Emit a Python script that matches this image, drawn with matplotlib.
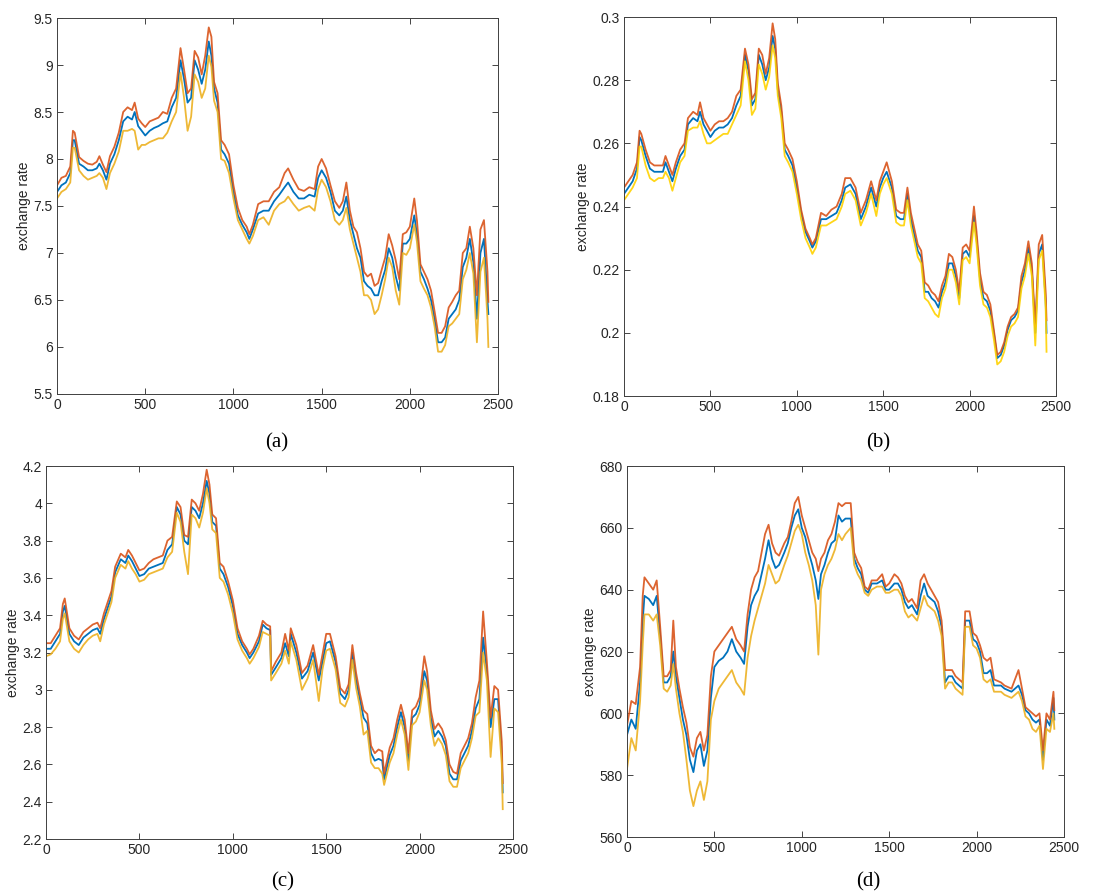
import matplotlib
matplotlib.use("Agg")
import matplotlib.pyplot as plt
from matplotlib.ticker import FuncFormatter

plt.rcParams["font.family"] = ["Liberation Sans", "DejaVu Sans"]

# ---- panel (a) ----
days_a = [0, 25, 50, 75, 90, 100, 125, 150, 175, 200, 225, 240, 260, 280, 300,
          325, 350, 375, 400, 425, 440, 460, 480, 500, 525, 550, 575, 600, 625, 650,
          675, 700, 720, 740, 760, 780, 800, 820, 840, 860, 875, 890, 910, 930, 950,
          975, 1000, 1025, 1050, 1075, 1090, 1110, 1140, 1170, 1200, 1230, 1260, 1290, 1310, 1340,
          1370, 1400, 1430, 1460, 1480, 1500, 1525, 1550, 1575, 1600, 1620, 1640, 1660, 1680, 1700,
          1720, 1740, 1760, 1780, 1800, 1820, 1840, 1860, 1880, 1900, 1920, 1940, 1960, 1980, 2000,
          2025, 2040, 2060, 2080, 2100, 2120, 2140, 2160, 2180, 2200, 2220, 2240, 2260, 2280, 2300,
          2320, 2340, 2360, 2380, 2400, 2420, 2440, 2445]
blue_a = [7.65, 7.72, 7.75, 7.85, 8.20, 8.20, 7.95, 7.92, 7.88, 7.88, 7.90, 7.95, 7.88, 7.78, 7.95,
          8.05, 8.20, 8.40, 8.45, 8.42, 8.50, 8.35, 8.30, 8.25, 8.30, 8.33, 8.35, 8.38, 8.40, 8.55,
          8.65, 9.05, 8.85, 8.60, 8.65, 9.05, 8.95, 8.80, 8.95, 9.25, 9.10, 8.75, 8.60, 8.10, 8.05,
          7.95, 7.65, 7.40, 7.30, 7.22, 7.15, 7.25, 7.42, 7.45, 7.45, 7.55, 7.62, 7.70, 7.75, 7.65,
          7.58, 7.58, 7.62, 7.60, 7.80, 7.88, 7.80, 7.65, 7.45, 7.40, 7.45, 7.60, 7.35, 7.20, 7.05,
          6.95, 6.70, 6.65, 6.62, 6.55, 6.55, 6.70, 6.82, 7.05, 6.95, 6.75, 6.60, 7.10, 7.10, 7.15,
          7.40, 7.20, 6.80, 6.72, 6.62, 6.50, 6.30, 6.05, 6.05, 6.10, 6.30, 6.35, 6.40, 6.50, 6.85,
          6.95, 7.15, 6.90, 6.30, 7.00, 7.15, 6.50, 6.35]
orange_a = [7.72, 7.80, 7.82, 7.92, 8.30, 8.28, 8.02, 7.98, 7.95, 7.94, 7.97, 8.03, 7.94, 7.86, 8.03,
            8.13, 8.28, 8.50, 8.55, 8.52, 8.60, 8.43, 8.38, 8.34, 8.40, 8.42, 8.44, 8.50, 8.48, 8.65,
            8.75, 9.18, 8.95, 8.70, 8.75, 9.15, 9.08, 8.90, 9.10, 9.40, 9.30, 8.82, 8.70, 8.20, 8.15,
            8.05, 7.72, 7.48, 7.35, 7.28, 7.20, 7.30, 7.52, 7.55, 7.55, 7.65, 7.70, 7.85, 7.90, 7.78,
            7.68, 7.66, 7.70, 7.68, 7.92, 8.00, 7.90, 7.72, 7.55, 7.48, 7.55, 7.75, 7.45, 7.28, 7.22,
            7.05, 6.80, 6.75, 6.78, 6.65, 6.68, 6.82, 6.95, 7.20, 7.08, 6.92, 6.72, 7.20, 7.22, 7.28,
            7.58, 7.35, 6.88, 6.80, 6.72, 6.60, 6.38, 6.15, 6.15, 6.22, 6.42, 6.48, 6.55, 6.60, 7.00,
            7.05, 7.28, 7.05, 6.55, 7.25, 7.35, 6.80, 6.48]
yellow_a = [7.58, 7.65, 7.68, 7.75, 8.12, 8.12, 7.88, 7.82, 7.78, 7.80, 7.82, 7.85, 7.80, 7.68, 7.85,
            7.95, 8.08, 8.30, 8.30, 8.32, 8.30, 8.10, 8.15, 8.15, 8.18, 8.20, 8.22, 8.22, 8.28, 8.40,
            8.50, 8.92, 8.65, 8.30, 8.45, 8.90, 8.82, 8.65, 8.75, 9.10, 8.98, 8.62, 8.50, 8.00, 7.98,
            7.85, 7.58, 7.35, 7.25, 7.15, 7.10, 7.18, 7.35, 7.38, 7.30, 7.45, 7.52, 7.55, 7.60, 7.52,
            7.45, 7.48, 7.50, 7.45, 7.68, 7.78, 7.70, 7.55, 7.35, 7.30, 7.35, 7.48, 7.25, 7.10, 6.95,
            6.80, 6.55, 6.55, 6.50, 6.35, 6.40, 6.55, 6.72, 6.95, 6.85, 6.60, 6.45, 7.00, 6.98, 7.05,
            7.30, 7.12, 6.70, 6.62, 6.55, 6.42, 6.22, 5.95, 5.95, 6.02, 6.22, 6.25, 6.30, 6.35, 6.72,
            6.82, 7.00, 6.78, 6.05, 6.80, 6.95, 6.30, 6.00]

# ---- panel (b) ----
days_b = [0, 25, 50, 75, 90, 100, 125, 150, 175, 200, 225, 240, 260, 280, 300,
          325, 350, 370, 400, 425, 440, 460, 480, 500, 525, 550, 575, 600, 625, 650,
          675, 700, 720, 740, 760, 780, 800, 820, 840, 860, 875, 890, 910, 930, 950,
          975, 1000, 1025, 1050, 1075, 1090, 1110, 1140, 1170, 1200, 1230, 1260, 1280, 1310, 1340,
          1370, 1400, 1430, 1460, 1480, 1500, 1520, 1550, 1575, 1600, 1620, 1640, 1660, 1680, 1700,
          1720, 1740, 1760, 1780, 1800, 1820, 1840, 1860, 1880, 1900, 1920, 1940, 1960, 1980, 2000,
          2025, 2040, 2060, 2080, 2100, 2120, 2140, 2160, 2180, 2200, 2220, 2240, 2260, 2280, 2300,
          2320, 2340, 2360, 2380, 2400, 2420, 2440, 2445]
blue_b = [0.244, 0.246, 0.248, 0.252, 0.262, 0.261, 0.256, 0.252, 0.251, 0.251, 0.251, 0.254, 0.251, 0.248, 0.252,
          0.256, 0.258, 0.266, 0.268, 0.267, 0.270, 0.266, 0.264, 0.262, 0.264, 0.265, 0.265, 0.266, 0.268, 0.272,
          0.275, 0.288, 0.283, 0.272, 0.274, 0.288, 0.285, 0.280, 0.284, 0.294, 0.290, 0.277, 0.270, 0.258, 0.256,
          0.253, 0.246, 0.238, 0.232, 0.229, 0.227, 0.229, 0.236, 0.236, 0.237, 0.238, 0.242, 0.246, 0.247, 0.244,
          0.236, 0.240, 0.246, 0.240, 0.246, 0.249, 0.251, 0.246, 0.237, 0.236, 0.236, 0.244, 0.236, 0.231, 0.226,
          0.224, 0.213, 0.213, 0.211, 0.210, 0.208, 0.213, 0.216, 0.222, 0.222, 0.218, 0.211, 0.225, 0.226, 0.224,
          0.237, 0.230, 0.217, 0.211, 0.210, 0.207, 0.200, 0.192, 0.193, 0.196, 0.201, 0.204, 0.205, 0.207, 0.216,
          0.220, 0.227, 0.220, 0.200, 0.225, 0.228, 0.210, 0.200]
orange_b = [0.246, 0.248, 0.250, 0.254, 0.264, 0.263, 0.258, 0.254, 0.253, 0.253, 0.253, 0.256, 0.253, 0.250, 0.254,
            0.258, 0.260, 0.268, 0.270, 0.269, 0.273, 0.268, 0.266, 0.264, 0.266, 0.267, 0.267, 0.268, 0.270, 0.275,
            0.277, 0.290, 0.285, 0.274, 0.276, 0.290, 0.288, 0.282, 0.287, 0.298, 0.293, 0.279, 0.272, 0.260, 0.258,
            0.255, 0.248, 0.239, 0.233, 0.230, 0.228, 0.230, 0.238, 0.237, 0.239, 0.240, 0.244, 0.249, 0.249, 0.246,
            0.238, 0.242, 0.248, 0.242, 0.248, 0.251, 0.254, 0.248, 0.239, 0.238, 0.238, 0.246, 0.238, 0.233, 0.228,
            0.226, 0.216, 0.215, 0.213, 0.212, 0.210, 0.215, 0.218, 0.225, 0.224, 0.220, 0.213, 0.227, 0.228, 0.226,
            0.240, 0.232, 0.219, 0.213, 0.212, 0.209, 0.201, 0.193, 0.194, 0.197, 0.202, 0.205, 0.206, 0.208, 0.218,
            0.222, 0.229, 0.222, 0.202, 0.228, 0.231, 0.213, 0.204]
yellow_b = [0.242, 0.244, 0.246, 0.249, 0.259, 0.259, 0.253, 0.249, 0.248, 0.249, 0.249, 0.251, 0.249, 0.245, 0.249,
            0.254, 0.256, 0.264, 0.265, 0.265, 0.267, 0.263, 0.260, 0.260, 0.261, 0.262, 0.263, 0.263, 0.266, 0.269,
            0.272, 0.286, 0.280, 0.269, 0.271, 0.285, 0.282, 0.277, 0.281, 0.291, 0.287, 0.275, 0.268, 0.256, 0.254,
            0.251, 0.244, 0.236, 0.230, 0.227, 0.225, 0.227, 0.234, 0.234, 0.235, 0.236, 0.240, 0.244, 0.245, 0.242,
            0.234, 0.238, 0.244, 0.237, 0.244, 0.247, 0.249, 0.244, 0.235, 0.234, 0.234, 0.242, 0.234, 0.229, 0.224,
            0.222, 0.211, 0.210, 0.208, 0.206, 0.205, 0.211, 0.214, 0.220, 0.220, 0.216, 0.209, 0.223, 0.224, 0.222,
            0.235, 0.228, 0.215, 0.209, 0.208, 0.205, 0.198, 0.190, 0.191, 0.194, 0.199, 0.202, 0.203, 0.205, 0.214,
            0.218, 0.225, 0.218, 0.196, 0.223, 0.226, 0.208, 0.194]

# ---- panel (c) ----
days_c = [0, 25, 50, 75, 90, 100, 125, 150, 175, 200, 225, 250, 275, 290, 310,
          330, 350, 370, 400, 425, 440, 460, 480, 500, 525, 550, 575, 600, 625, 650,
          675, 700, 720, 740, 760, 780, 800, 820, 840, 860, 875, 890, 910, 930, 950,
          975, 1000, 1025, 1050, 1075, 1090, 1110, 1140, 1160, 1180, 1200, 1205, 1230, 1260, 1280,
          1300, 1310, 1340, 1370, 1400, 1430, 1460, 1480, 1500, 1520, 1550, 1575, 1600, 1620, 1640,
          1660, 1680, 1700, 1720, 1740, 1760, 1780, 1800, 1810, 1840, 1860, 1880, 1900, 1920, 1940,
          1960, 1980, 2000, 2025, 2040, 2060, 2080, 2100, 2120, 2140, 2160, 2180, 2200, 2220, 2240,
          2260, 2280, 2300, 2320, 2340, 2360, 2380, 2400, 2420, 2440, 2445]
blue_c = [3.22, 3.22, 3.26, 3.30, 3.42, 3.45, 3.30, 3.26, 3.24, 3.28, 3.30, 3.32, 3.33, 3.30, 3.38,
          3.44, 3.50, 3.63, 3.70, 3.68, 3.72, 3.69, 3.65, 3.61, 3.62, 3.65, 3.66, 3.67, 3.68, 3.75,
          3.78, 3.98, 3.94, 3.80, 3.78, 3.98, 3.96, 3.92, 4.00, 4.12, 4.05, 3.90, 3.88, 3.65, 3.62,
          3.55, 3.45, 3.30, 3.24, 3.20, 3.17, 3.20, 3.26, 3.35, 3.33, 3.32, 3.08, 3.12, 3.17, 3.25,
          3.18, 3.30, 3.20, 3.06, 3.10, 3.20, 3.05, 3.15, 3.25, 3.26, 3.15, 2.98, 2.95, 3.00, 3.20,
          3.05, 2.95, 2.85, 2.82, 2.66, 2.62, 2.63, 2.62, 2.52, 2.65, 2.70, 2.80, 2.88, 2.80, 2.62,
          2.85, 2.87, 2.92, 3.10, 3.05, 2.85, 2.75, 2.78, 2.75, 2.70, 2.55, 2.52, 2.52, 2.62, 2.66,
          2.70, 2.78, 2.90, 2.95, 3.28, 3.10, 2.80, 2.95, 2.95, 2.65, 2.45]
orange_c = [3.25, 3.25, 3.29, 3.33, 3.46, 3.49, 3.33, 3.29, 3.27, 3.31, 3.33, 3.35, 3.36, 3.33, 3.41,
            3.47, 3.53, 3.66, 3.73, 3.71, 3.75, 3.72, 3.68, 3.64, 3.65, 3.68, 3.70, 3.71, 3.72, 3.80,
            3.82, 4.01, 3.98, 3.83, 3.82, 4.02, 4.00, 3.96, 4.05, 4.18, 4.10, 3.94, 3.92, 3.68, 3.66,
            3.58, 3.48, 3.33, 3.26, 3.22, 3.19, 3.22, 3.29, 3.37, 3.35, 3.34, 3.10, 3.15, 3.20, 3.30,
            3.21, 3.33, 3.24, 3.09, 3.13, 3.24, 3.08, 3.19, 3.30, 3.30, 3.18, 3.01, 2.98, 3.03, 3.24,
            3.09, 2.98, 2.89, 2.87, 2.70, 2.66, 2.68, 2.67, 2.55, 2.69, 2.74, 2.84, 2.92, 2.84, 2.66,
            2.89, 2.91, 2.96, 3.18, 3.10, 2.89, 2.79, 2.82, 2.79, 2.73, 2.60, 2.56, 2.55, 2.66, 2.70,
            2.74, 2.82, 2.96, 3.05, 3.42, 3.15, 2.85, 3.02, 3.00, 2.72, 2.50]
yellow_c = [3.18, 3.19, 3.22, 3.26, 3.38, 3.41, 3.26, 3.22, 3.20, 3.24, 3.27, 3.29, 3.30, 3.26, 3.35,
            3.41, 3.47, 3.60, 3.67, 3.65, 3.69, 3.65, 3.62, 3.58, 3.59, 3.62, 3.63, 3.64, 3.65, 3.71,
            3.74, 3.95, 3.90, 3.74, 3.62, 3.94, 3.92, 3.87, 3.95, 4.08, 4.00, 3.86, 3.84, 3.60, 3.58,
            3.51, 3.41, 3.27, 3.21, 3.17, 3.14, 3.17, 3.23, 3.31, 3.30, 3.29, 3.05, 3.09, 3.14, 3.21,
            3.14, 3.26, 3.16, 3.00, 3.06, 3.16, 2.94, 3.11, 3.21, 3.22, 3.11, 2.93, 2.91, 2.96, 3.16,
            3.01, 2.91, 2.76, 2.78, 2.61, 2.58, 2.58, 2.55, 2.49, 2.61, 2.66, 2.76, 2.84, 2.76, 2.57,
            2.81, 2.83, 2.88, 3.05, 3.00, 2.81, 2.70, 2.74, 2.71, 2.65, 2.51, 2.48, 2.48, 2.58, 2.62,
            2.66, 2.74, 2.86, 2.88, 3.20, 3.05, 2.64, 2.90, 2.88, 2.60, 2.36]

# ---- panel (d) ----
days_d = [0, 25, 50, 75, 90, 100, 125, 150, 170, 190, 210, 230, 250, 265, 280,
          300, 320, 340, 360, 380, 400, 420, 440, 460, 480, 500, 525, 550, 575, 600,
          625, 650, 670, 690, 710, 730, 750, 770, 790, 810, 830, 850, 870, 900, 920,
          940, 960, 980, 1000, 1020, 1040, 1060, 1080, 1095, 1110, 1130, 1150, 1170, 1190, 1210,
          1230, 1250, 1280, 1300, 1320, 1340, 1360, 1380, 1400, 1430, 1460, 1480, 1500, 1530, 1550,
          1570, 1590, 1610, 1630, 1660, 1680, 1700, 1720, 1740, 1760, 1780, 1800, 1820, 1840, 1860,
          1880, 1900, 1920, 1935, 1960, 1980, 2000, 2020, 2040, 2060, 2080, 2100, 2140, 2160, 2200,
          2240, 2260, 2280, 2300, 2320, 2340, 2360, 2380, 2400, 2420, 2440, 2445]
blue_d = [593, 598, 595, 610, 630, 638, 637, 635, 638, 625, 610, 610, 612, 620, 612,
          605, 598, 593, 585, 581, 588, 590, 583, 588, 605, 615, 617, 618, 620, 624,
          620, 618, 616, 628, 635, 638, 640, 645, 650, 656, 650, 647, 648, 652, 655,
          660, 664, 666, 660, 657, 652, 648, 643, 637, 645, 648, 652, 655, 656, 664,
          662, 663, 663, 650, 647, 645, 640, 639, 642, 642, 643, 640, 640, 642, 642,
          640, 636, 634, 635, 632, 638, 642, 638, 637, 636, 633, 628, 610, 612, 612,
          610, 609, 608, 630, 630, 624, 623, 620, 613, 613, 614, 609, 609, 608, 607,
          609, 606, 601, 600, 598, 597, 598, 585, 598, 596, 605, 598]
orange_d = [596, 604, 603, 615, 638, 644, 642, 640, 643, 628, 612, 612, 614, 630, 615,
            608, 602, 597, 589, 586, 592, 594, 588, 593, 612, 620, 622, 624, 626, 628,
            624, 622, 620, 632, 640, 644, 646, 652, 658, 661, 655, 652, 651, 655, 657,
            662, 668, 670, 664, 660, 656, 652, 650, 646, 650, 652, 656, 658, 662, 668,
            667, 668, 668, 652, 649, 647, 641, 640, 643, 643, 645, 641, 642, 645, 644,
            642, 638, 636, 637, 634, 643, 645, 642, 640, 638, 636, 630, 614, 614, 614,
            612, 611, 610, 633, 633, 626, 625, 622, 618, 617, 618, 611, 610, 609, 608,
            614, 608, 602, 601, 600, 599, 600, 588, 600, 598, 607, 601]
yellow_d = [582, 592, 588, 604, 622, 632, 632, 630, 632, 622, 608, 607, 609, 616, 608,
            600, 594, 585, 575, 570, 575, 578, 572, 578, 598, 604, 608, 610, 612, 614,
            610, 608, 606, 618, 625, 630, 634, 638, 642, 648, 645, 642, 643, 648, 651,
            655, 659, 661, 658, 652, 648, 643, 635, 619, 640, 645, 648, 650, 653, 658,
            656, 658, 660, 648, 645, 643, 639, 638, 640, 641, 641, 639, 639, 640, 640,
            638, 633, 631, 632, 630, 634, 638, 635, 634, 633, 630, 625, 608, 610, 610,
            608, 607, 606, 628, 628, 622, 621, 618, 611, 610, 611, 607, 607, 606, 605,
            607, 604, 599, 598, 595, 594, 596, 582, 595, 594, 600, 595]

blue = "#0072BD"
orange = "#D95319"
yellow = "#EDB120"
grey = "#262626"

# data, axes rect, y range, y step, caption, caption position, yellow shade
panels = [
    (days_a, blue_a, orange_a, yellow_a, [0.0519, 0.5603, 0.4013, 0.4196], (5.5, 9.5), 0.5,
     "(a)", (0.252, 0.506), yellow),
    (days_b, blue_b, orange_b, yellow_b, [0.5678, 0.5580, 0.3931, 0.4230], (0.18, 0.3), 0.02,
     "(b)", (0.799, 0.506), "#FFD200"),
    (days_c, blue_c, orange_c, yellow_c, [0.0419, 0.0636, 0.4249, 0.4163], (2.2, 4.2), 0.2,
     "(c)", (0.2575, 0.016), yellow),
    (days_d, blue_d, orange_d, yellow_d, [0.5705, 0.0658, 0.3976, 0.4141], (560, 680), 20,
     "(d)", (0.790, 0.016), yellow),
]

fig = plt.figure(figsize=(10.99, 8.96), dpi=100)

for days, b, o, y, pos, ylim, step, label, lpos, ycol in panels:
    ax = fig.add_axes(pos)
    ax.plot(days, b, color=blue, linewidth=1.3)
    ax.plot(days, o, color=orange, linewidth=1.3, alpha=0.9)
    ax.plot(days, y, color=ycol, linewidth=1.3, alpha=0.9)

    ax.set_xlim(0, 2500)
    ax.set_ylim(*ylim)
    ax.set_xticks(range(0, 2501, 500))
    n = int(round((ylim[1] - ylim[0]) / step))
    ax.set_yticks([ylim[0] + i * step for i in range(n + 1)])
    ax.yaxis.set_major_formatter(FuncFormatter(lambda v, p: "%g" % round(v, 4)))

    ax.tick_params(direction="in", length=4, width=0.6, colors=grey,
                   labelsize=10, top=True, right=True, pad=3)
    for s in ax.spines.values():
        s.set_color("#404040")
        s.set_linewidth(0.7)
    ax.set_ylabel("exchange rate", fontsize=10, color=grey, labelpad=2)

    fig.text(lpos[0], lpos[1], label, ha="center", va="center",
             fontsize=15, family="Liberation Serif")

fig.savefig("out.png", dpi=100)
